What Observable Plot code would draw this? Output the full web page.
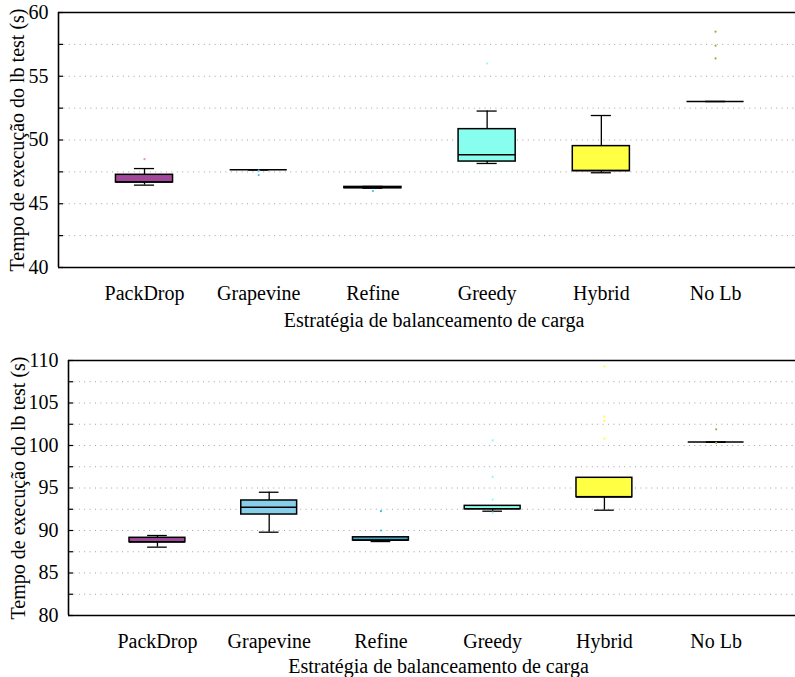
<!DOCTYPE html>
<html>
<head>
<meta charset="utf-8">
<script src="https://cdn.jsdelivr.net/npm/d3@7"></script>
<script src="https://cdn.jsdelivr.net/npm/@observablehq/plot@0.6"></script>
<style>
  html, body { margin: 0; padding: 0; background: white; }
  svg { display: block; }
  svg text { font-family: "Liberation Serif", "Times New Roman", serif; }
</style>
</head>
<body>
<div id="top"></div>
<div id="bottom"></div>
<script>
const categories = ["PackDrop", "Grapevine", "Refine", "Greedy", "Hybrid", "No Lb"];
const fillColors = ["#a3479a", "#87ceeb", "#3aa8c8", "#88ffee", "#ffff44", "#b0b060"];
const outlierColors = ["#e090d8", "#50c0f0", "#30c0f0", "#80ffff", "#ffff40", "#a8a840"];
const xLabel = "Estratégia de balanceamento de carga";
const yLabel = "Tempo de execução do lb test (s)";

// Top panel (values in seconds)
const topLow    = [46.46, 47.66, 46.22, 48.16, 47.43, 53.02];
const topQ1     = [46.67, 47.66, 46.22, 48.31, 47.56, 53.02];
const topMedian = [46.70, 47.66, 46.27, 48.84, 47.60, 53.02];
const topQ3     = [47.27, 47.66, 46.32, 50.85, 49.52, 53.02];
const topHigh   = [47.76, 47.66, 46.36, 52.27, 51.92, 53.02];
const topOutliers = [[48.5], [47.6, 47.25], [46.0], [56.0], [], [58.5, 57.4, 56.4]];
const topTicks = [40, 45, 50, 55, 60];
const topGrid = [40, 42.5, 45, 47.5, 50, 52.5, 55, 57.5, 60];

// Bottom panel
const botLow    = [88.04, 89.80, 88.70, 92.27, 92.39, 100.4];
const botQ1     = [88.62, 91.88, 88.82, 92.50, 93.92, 100.4];
const botMedian = [88.65, 92.75, 88.85, 92.55, 93.95, 100.4];
const botQ3     = [89.14, 93.53, 89.20, 92.90, 96.20, 100.4];
const botHigh   = [89.41, 94.50, 89.20, 92.90, 96.20, 100.4];
const botOutliers = [[], [], [92.27, 90.0], [100.6, 96.3, 93.65, 92.1], [109.3, 103.4, 102.9, 100.8], [101.9, 100.3]];
const botTicks = [80, 85, 90, 95, 100, 105, 110];
const botGrid = [80, 82.5, 85, 87.5, 90, 92.5, 95, 97.5, 100, 102.5, 105, 107.5, 110];

const FONT = "Liberation Serif, Times New Roman, serif";

function panel({low, q1, median, q3, high, outliers, ticks, grid, xDomain, height, marginTop, marginBottom, marginLeft, yLabelDx, xLabelDy, xLabelDx}) {
  const rows = categories.map((c, k) => ({
    i: k + 1, name: c, lo: low[k], q1: q1[k], med: median[k], q3: q3[k], hi: high[k],
    fill: fillColors[k]
  }));
  const outRows = outliers.flatMap((vals, k) => vals.map(v => ({i: k + 1, v, color: outlierColors[k]})));
  const yDomain = [ticks[0], ticks[ticks.length - 1]];
  const hw = 0.25, cw = 0.088;
  return Plot.plot({
    width: 795,
    height,
    marginTop,
    marginBottom,
    marginLeft,
    marginRight: 0,
    style: {fontFamily: FONT, fontSize: "20px", background: "white", color: "black"},
    x: {type: "linear", domain: xDomain, axis: null},
    y: {domain: yDomain, axis: null},
    marks: [
      Plot.gridY({ticks: grid, stroke: "#a0a0a0", strokeOpacity: 1, strokeWidth: 1, strokeDasharray: "1,4.4"}),
      Plot.axisY({ticks: grid, tickSize: -5, text: null, strokeWidth: 1.2}),
      Plot.axisY({ticks: ticks, tickSize: 0, tickPadding: 10, label: null, fontSize: 20, fontFamily: FONT}),
      Plot.axisX({ticks: categories.map((c, k) => k + 1), tickFormat: i => categories[i - 1], tickSize: 0, tickPadding: 18, label: null, fontSize: 20, fontFamily: FONT}),
      Plot.ruleX([xDomain[0]], {stroke: "black", strokeWidth: 1.6}),
      Plot.ruleY(yDomain, {stroke: "black", strokeWidth: 1.6}),
      // whiskers
      Plot.ruleX(rows, {x: "i", y1: "q3", y2: "hi", stroke: "black", strokeWidth: 1.3}),
      Plot.ruleX(rows, {x: "i", y1: "lo", y2: "q1", stroke: "black", strokeWidth: 1.3}),
      Plot.ruleY(rows, {y: "hi", x1: d => d.i - cw, x2: d => d.i + cw, stroke: "black", strokeWidth: 1.3}),
      Plot.ruleY(rows, {y: "lo", x1: d => d.i - cw, x2: d => d.i + cw, stroke: "black", strokeWidth: 1.3}),
      // boxes
      Plot.rect(rows, {x1: d => d.i - hw, x2: d => d.i + hw, y1: "q1", y2: "q3", fill: "fill", stroke: "black", strokeWidth: 1.5}),
      Plot.ruleY(rows, {y: "med", x1: d => d.i - hw, x2: d => d.i + hw, stroke: "black", strokeWidth: 1.5}),
      // outliers
      Plot.dot(outRows, {x: "i", y: "v", r: 1.1, fill: "color", stroke: null}),
      // labels
      Plot.text([yLabel], {text: d => d, frameAnchor: "left", textAnchor: "middle", rotate: -90, dx: yLabelDx, fontSize: 20, fontFamily: FONT}),
      Plot.text([xLabel], {text: d => d, frameAnchor: "bottom", textAnchor: "middle", dy: xLabelDy, dx: xLabelDx, fontSize: 20, fontFamily: FONT})
    ]
  });
}

document.getElementById("top").append(panel({
  low: topLow, q1: topQ1, median: topMedian, q3: topQ3, high: topHigh, outliers: topOutliers,
  ticks: topTicks, grid: topGrid, xDomain: [0.247, 6.70],
  height: 340, marginTop: 12, marginBottom: 73, marginLeft: 58, yLabelDx: -41, xLabelDy: 59, xLabelDx: 7
}));
document.getElementById("bottom").append(panel({
  low: botLow, q1: botQ1, median: botMedian, q3: botQ3, high: botHigh, outliers: botOutliers,
  ticks: botTicks, grid: botGrid, xDomain: [0.204, 6.71],
  height: 337, marginTop: 20, marginBottom: 62, marginLeft: 68, yLabelDx: -50, xLabelDy: 57, xLabelDx: 6.5
}));
</script>
</body>
</html>
